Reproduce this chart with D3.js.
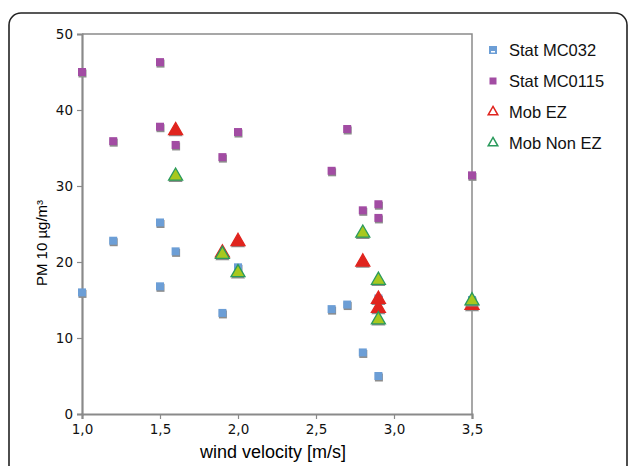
<!DOCTYPE html>
<html>
<head>
<meta charset="utf-8">
<script src="https://cdn.jsdelivr.net/npm/d3@7"></script>
<style>
  body { margin: 0; background: #fff; }
  svg { display: block; }
</style>
</head>
<body>
<div id="graph"></div>
<script>
// wind velocity [m/s], PM10 [µg/m³]
var statMC032 = [[1.0,16.0],[1.2,22.8],[1.5,25.2],[1.5,16.8],[1.6,21.4],[1.9,13.3],[2.0,19.3],[2.6,13.8],[2.7,14.4],[2.8,8.1],[2.9,5.0],[2.9,15.2],[3.5,15.0]];
var statMC0115 = [[1.0,45.0],[1.2,35.9],[1.5,46.3],[1.5,37.8],[1.6,35.4],[1.9,33.8],[2.0,37.1],[2.6,32.0],[2.7,37.5],[2.8,26.8],[2.9,27.6],[2.9,25.8],[3.5,31.4]];
var mobEZ = [[1.6,37.3],[1.9,21.2],[2.0,22.7],[2.8,20.0],[2.9,15.1],[2.9,13.9],[3.5,14.3]];
var mobNonEZ = [[1.6,31.3],[1.9,21.0],[2.0,18.6],[2.8,23.8],[2.9,17.6],[2.9,12.4],[3.5,14.9]];

var xTicks = [1.0, 1.5, 2.0, 2.5, 3.0, 3.5];
var yTicks = [0, 10, 20, 30, 40, 50];
var legendNames = ["Stat MC032", "Stat MC0115", "Mob EZ", "Mob Non EZ"];

var W = 629, H = 466;
var margin = {top: 34, right: 157, bottom: 52, left: 82};

var svg = d3.select('#graph').append('svg')
  .attr('width', W).attr('height', H);

// outer rounded frame (runs off the bottom)
svg.append('rect')
  .attr('x', 9).attr('y', 13).attr('width', 618).attr('height', 480)
  .attr('rx', 12).attr('ry', 12)
  .attr('fill', 'none').attr('stroke', '#222').attr('stroke-width', 1.6);

var x = d3.scaleLinear().domain([1, 3.5]).range([margin.left, W - margin.right]);
var y = d3.scaleLinear().domain([0, 50]).range([H - margin.bottom, margin.top]);

var axisColor = '#8a8a8a';

// top and right border of the plot area
svg.append('path')
  .attr('d', 'M' + x(1) + ',' + y(50) + 'H' + x(3.5) + 'V' + y(0))
  .attr('fill', 'none').attr('stroke', axisColor).attr('stroke-width', 1.5);

var xAxis = svg.append('g')
  .attr('transform', 'translate(0,' + y(0) + ')')
  .call(d3.axisBottom(x).tickValues(xTicks).tickSize(5).tickPadding(5)
    .tickFormat(function(d) { return d3.format('.1f')(d).replace('.', ','); }));

var yAxis = svg.append('g')
  .attr('transform', 'translate(' + x(1) + ',0)')
  .call(d3.axisLeft(y).tickValues(yTicks).tickSize(5).tickPadding(4));

[xAxis, yAxis].forEach(function(a) {
  a.select('.domain').attr('stroke', axisColor).attr('stroke-width', 2.2);
  a.selectAll('.tick line').attr('stroke', axisColor).attr('stroke-width', 1.2);
  a.selectAll('text').attr('fill', '#111')
    .style('font-family', 'DejaVu Sans, Verdana, sans-serif').style('font-size', '13.5px');
});

svg.append('text')
  .attr('x', 273).attr('y', 458)
  .attr('text-anchor', 'middle')
  .style('font-family', 'Liberation Sans, Arial, sans-serif').style('font-size', '18px')
  .text('wind velocity [m/s]');

svg.append('text')
  .attr('transform', 'translate(47,243) rotate(-90)')
  .attr('text-anchor', 'middle')
  .style('font-family', 'Liberation Sans, Arial, sans-serif').style('font-size', '15px')
  .text('PM 10 µg/m³');

// markers
var sq = 8;
function squares(data, fill) {
  var g = svg.append('g');
  g.selectAll('.sh').data(data).enter().append('rect')
    .attr('x', function(d) { return x(d[0]) - sq / 2 + 0.5; })
    .attr('y', function(d) { return y(d[1]) - sq / 2 + 1.5; })
    .attr('width', sq).attr('height', sq).attr('fill', '#8c8c8c');
  g.selectAll('.pt').data(data).enter().append('rect')
    .attr('x', function(d) { return x(d[0]) - sq / 2; })
    .attr('y', function(d) { return y(d[1]) - sq / 2; })
    .attr('width', sq).attr('height', sq).attr('fill', fill);
}

var tri = d3.symbol().type(d3.symbolTriangle).size(85);
function triangles(data, fill, stroke) {
  var g = svg.append('g');
  g.selectAll('.sh').data(data).enter().append('path')
    .attr('d', tri)
    .attr('transform', function(d) { return 'translate(' + x(d[0]) + ',' + (y(d[1]) + 1.8) + ')'; })
    .attr('fill', '#8c8c8c');
  g.selectAll('.pt').data(data).enter().append('path')
    .attr('d', tri)
    .attr('transform', function(d) { return 'translate(' + x(d[0]) + ',' + y(d[1]) + ')'; })
    .attr('fill', fill).attr('stroke', stroke).attr('stroke-width', 1.3);
}

squares(statMC032, '#6c9ed6');
squares(statMC0115, '#a24ca3');
triangles(mobEZ, '#e0241e', '#e0241e');
triangles(mobNonEZ, '#a8c81e', '#2a9a5c');

// legend
var legY = [50, 81, 112, 143];
var leg = svg.append('g');
var lx = 493;
leg.append('rect').attr('x', lx - 4).attr('y', legY[0] - 4).attr('width', 8).attr('height', 8).attr('fill', '#6c9ed6');
leg.append('rect').attr('x', lx - 2).attr('y', legY[0] + 1).attr('width', 4).attr('height', 1.5).attr('fill', '#fff');
leg.append('rect').attr('x', lx - 3.5).attr('y', legY[1] - 3.5).attr('width', 7).attr('height', 7).attr('fill', '#a24ca3');
var ltri = d3.symbol().type(d3.symbolTriangle).size(40);
leg.append('path').attr('d', ltri).attr('transform', 'translate(' + lx + ',' + legY[2] + ')')
  .attr('fill', 'none').attr('stroke', '#e0241e').attr('stroke-width', 1.5);
leg.append('path').attr('d', ltri).attr('transform', 'translate(' + lx + ',' + legY[3] + ')')
  .attr('fill', 'none').attr('stroke', '#2a9a5c').attr('stroke-width', 1.5);
leg.selectAll('text').data(legendNames).enter().append('text')
  .attr('x', 509).attr('y', function(d, i) { return legY[i] + 6; })
  .style('font-family', 'Liberation Sans, Arial, sans-serif').style('font-size', '16.5px')
  .attr('fill', '#111')
  .text(function(d) { return d; });
</script>
</body>
</html>
